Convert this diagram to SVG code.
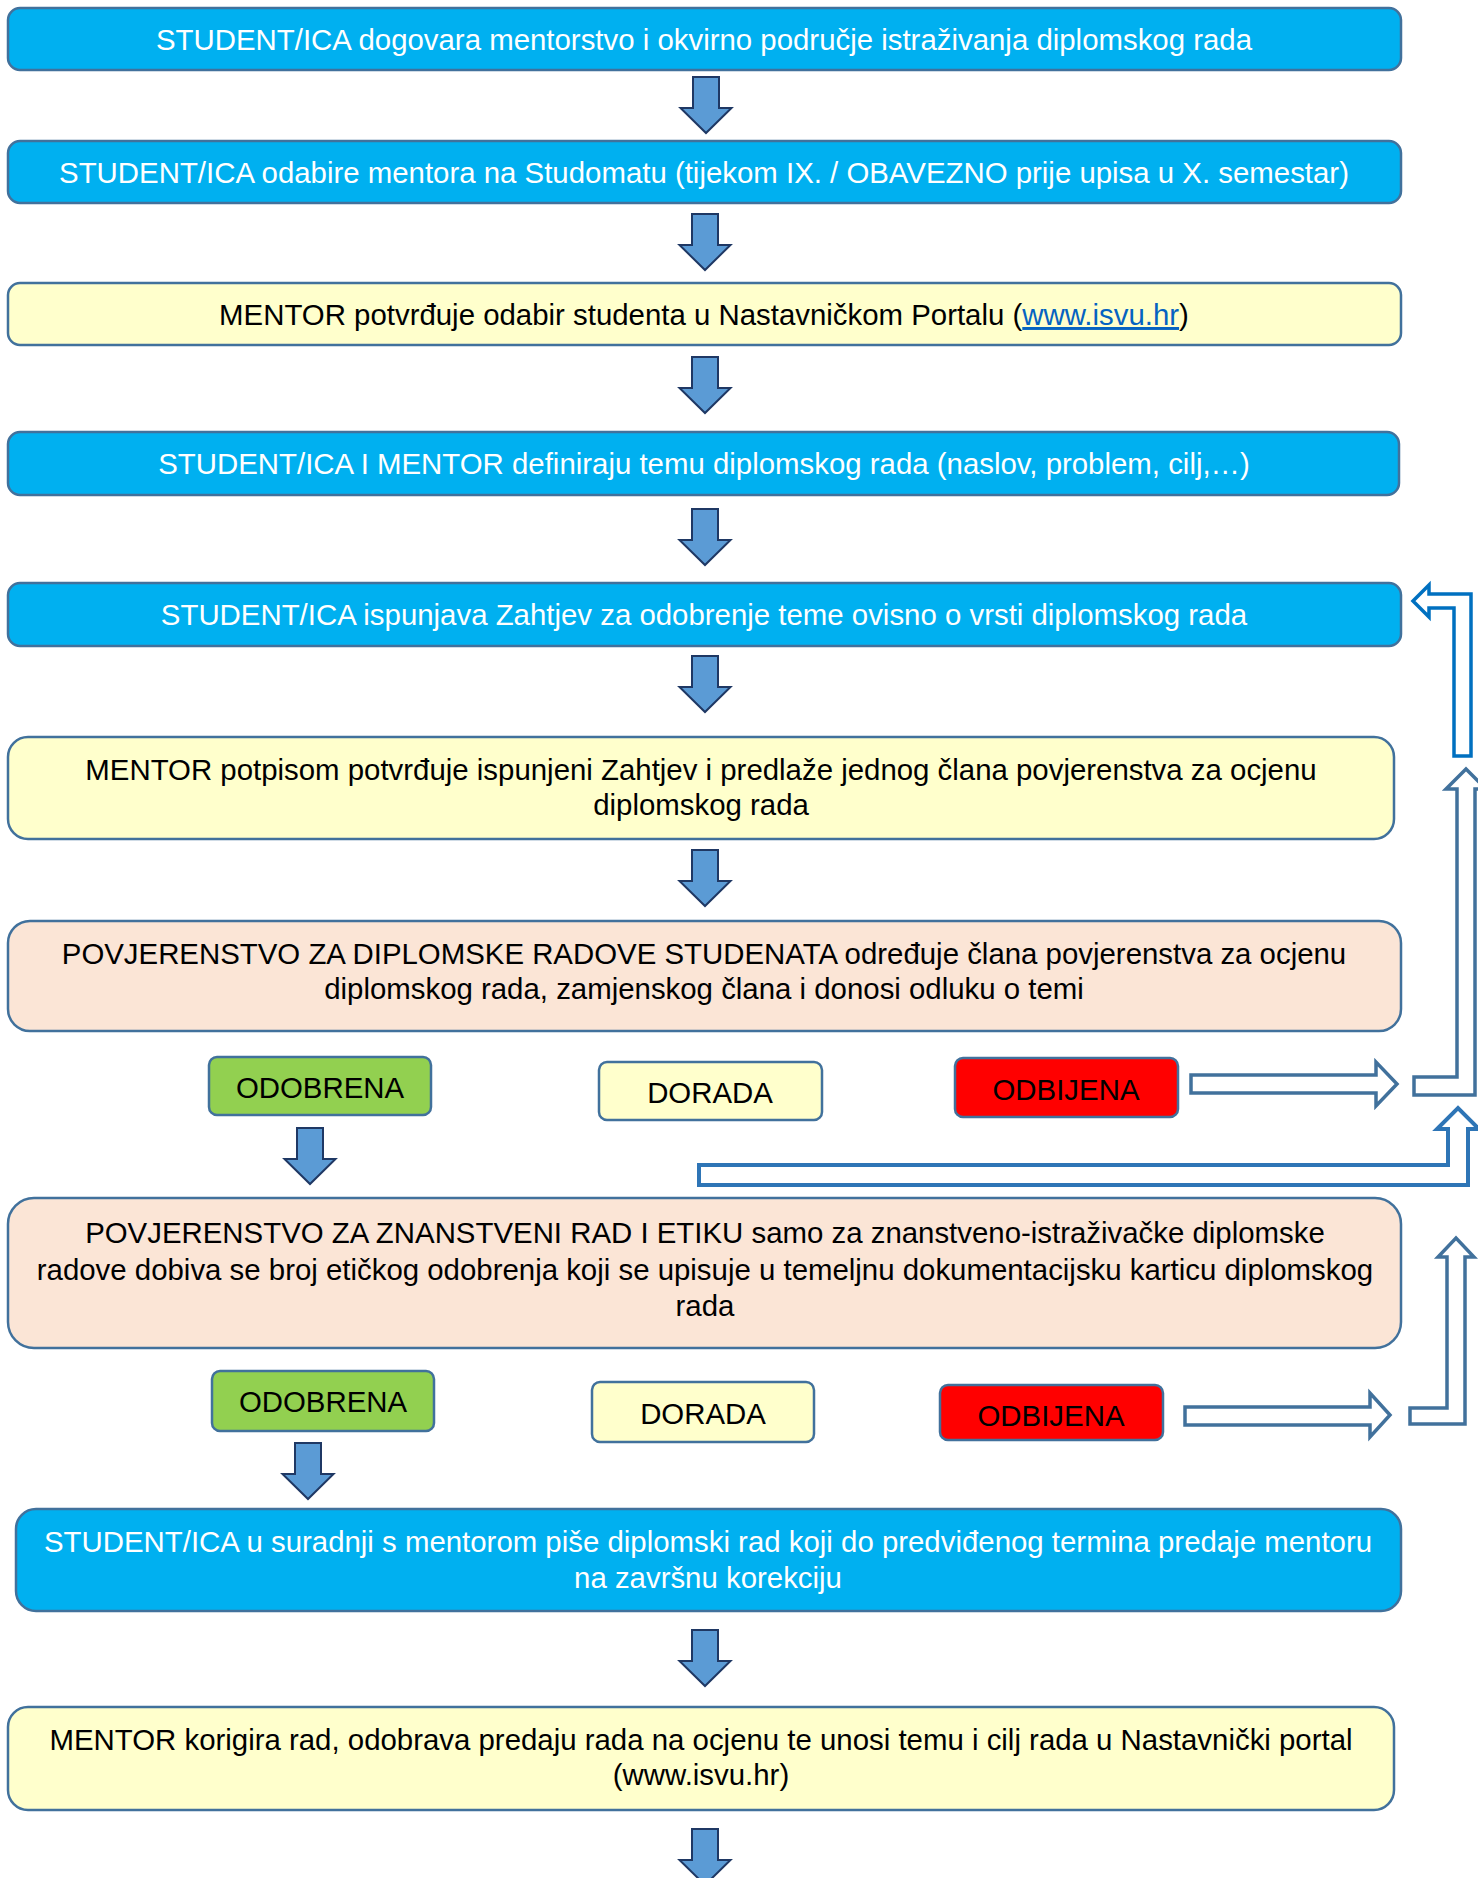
<svg xmlns="http://www.w3.org/2000/svg" xmlns:xlink="http://www.w3.org/1999/xlink" width="1478" height="1878" viewBox="0 0 1478 1878">
<defs>
<style>
.box{stroke:#41719C;stroke-width:2.5}
.blue{fill:#00B0F0}
.yel{fill:#FFFFCC}
.peach{fill:#FBE5D6}
.green{fill:#92D050}
.red{fill:#FF0000}
text{font-family:"Liberation Sans",Arial,sans-serif;font-size:29.4px;text-anchor:middle;fill:#000}
text.w{fill:#FFFFFF}
.link{fill:#0563C1;text-decoration:underline}
.dn{fill:#5B9BD5;stroke:#1F3864;stroke-width:2}
.ol{fill:#FFFFFF;stroke:#41719C;stroke-width:3.5;stroke-linejoin:miter}
.olA{fill:#FFFFFF;stroke:#0070C0;stroke-width:3.5}
.olC{fill:#FFFFFF;stroke:#2E75B6;stroke-width:4}
</style>
<path id="dnArrow" class="dn" d="M-13,0 H13 V31 H25.5 L0,56 L-25.5,31 H-13 Z"/>
</defs>
<g id="connectors">
<use xlink:href="#dnArrow" href="#dnArrow" x="706" y="77"/>
<use xlink:href="#dnArrow" href="#dnArrow" x="705" y="214"/>
<use xlink:href="#dnArrow" href="#dnArrow" x="705" y="357"/>
<use xlink:href="#dnArrow" href="#dnArrow" x="705" y="509"/>
<use xlink:href="#dnArrow" href="#dnArrow" x="705" y="656"/>
<use xlink:href="#dnArrow" href="#dnArrow" x="705" y="850"/>
<use xlink:href="#dnArrow" href="#dnArrow" x="310" y="1128"/>
<use xlink:href="#dnArrow" href="#dnArrow" x="308" y="1443"/>
<use xlink:href="#dnArrow" href="#dnArrow" x="705" y="1630"/>
<use xlink:href="#dnArrow" href="#dnArrow" x="705" y="1829"/>
<polygon class="olA" points="1413,601 1429,585 1429,594 1471,594 1471,756 1454,756 1454,608 1429,608 1429,617"/>
<polygon class="ol" points="1414,1077 1457,1077 1457,789 1446,789 1466,769 1486,789 1475,789 1475,1095 1414,1095"/>
<polygon class="olC" points="699,1165 1448,1165 1448,1129 1437,1129 1458,1108 1479,1129 1468,1129 1468,1185 699,1185"/>
<polygon class="ol" points="1410,1408 1447,1408 1447,1257 1438,1257 1456,1238 1474,1257 1465,1257 1465,1424 1410,1424"/>
<polygon class="ol" points="1191,1075 1376,1075 1376,1062 1397,1084 1376,1106 1376,1093 1191,1093"/>
<polygon class="ol" points="1185,1407 1370,1407 1370,1393 1390,1415 1370,1437 1370,1425 1185,1425"/>
</g>
<g id="n1"><rect class="box blue" x="8" y="8" width="1393" height="62" rx="12"/><text class="w" x="704" y="50">STUDENT/ICA dogovara mentorstvo i okvirno područje istraživanja diplomskog rada</text></g>
<g id="n2"><rect class="box blue" x="8" y="141" width="1393" height="62" rx="12"/><text class="w" x="704" y="183">STUDENT/ICA odabire mentora na Studomatu (tijekom IX. / OBAVEZNO prije upisa u X. semestar)</text></g>
<g id="n3"><rect class="box yel" x="8" y="283" width="1393" height="62" rx="12"/><text x="704" y="325">MENTOR potvrđuje odabir studenta u Nastavničkom Portalu (<tspan class="link">www.isvu.hr</tspan>)</text></g>
<g id="n4"><rect class="box blue" x="8" y="432" width="1391" height="63" rx="12"/><text class="w" x="704" y="474">STUDENT/ICA I MENTOR definiraju temu diplomskog rada (naslov, problem, cilj,…)</text></g>
<g id="n5"><rect class="box blue" x="8" y="583" width="1393" height="63" rx="12"/><text class="w" x="704" y="625">STUDENT/ICA ispunjava Zahtjev za odobrenje teme ovisno o vrsti diplomskog rada</text></g>
<g id="n6"><rect class="box yel" x="8" y="737" width="1386" height="102" rx="20"/><text x="701" y="780">MENTOR potpisom potvrđuje ispunjeni Zahtjev i predlaže jednog člana povjerenstva za ocjenu</text><text x="701" y="815">diplomskog rada</text></g>
<g id="n7"><rect class="box peach" x="8" y="921" width="1393" height="110" rx="22"/><text x="704" y="964">POVJERENSTVO ZA DIPLOMSKE RADOVE STUDENATA određuje člana povjerenstva za ocjenu</text><text x="704" y="999">diplomskog rada, zamjenskog člana i donosi odluku o temi</text></g>
<g id="n7a"><rect class="box green" x="209" y="1057" width="222" height="58" rx="8"/><text x="320" y="1098">ODOBRENA</text></g>
<g id="n7b"><rect class="box yel" x="599" y="1062" width="223" height="58" rx="8"/><text x="710" y="1103">DORADA</text></g>
<g id="n7c"><rect class="box red" x="955" y="1058" width="223" height="59" rx="8"/><text x="1066" y="1100">ODBIJENA</text></g>
<g id="n8"><rect class="box peach" x="8" y="1198" width="1393" height="150" rx="26"/><text x="705" y="1243">POVJERENSTVO ZA ZNANSTVENI RAD I ETIKU samo za znanstveno-istraživačke diplomske</text><text x="705" y="1280">radove dobiva se broj etičkog odobrenja koji se upisuje u temeljnu dokumentacijsku karticu diplomskog</text><text x="705" y="1316">rada</text></g>
<g id="n8a"><rect class="box green" x="212" y="1371" width="222" height="60" rx="8"/><text x="323" y="1412">ODOBRENA</text></g>
<g id="n8b"><rect class="box yel" x="592" y="1382" width="222" height="60" rx="8"/><text x="703" y="1424">DORADA</text></g>
<g id="n8c"><rect class="box red" x="940" y="1385" width="223" height="55" rx="8"/><text x="1051" y="1426">ODBIJENA</text></g>
<g id="n9"><rect class="box blue" x="16" y="1509" width="1385" height="102" rx="20"/><text class="w" x="708" y="1552">STUDENT/ICA u suradnji s mentorom piše diplomski rad koji do predviđenog termina predaje mentoru</text><text class="w" x="708" y="1588">na završnu korekciju</text></g>
<g id="n10"><rect class="box yel" x="8" y="1707" width="1386" height="103" rx="20"/><text x="701" y="1750">MENTOR korigira rad, odobrava predaju rada na ocjenu te unosi temu i cilj rada u Nastavnički portal</text><text x="701" y="1785">(www.isvu.hr)</text></g>
</svg>
